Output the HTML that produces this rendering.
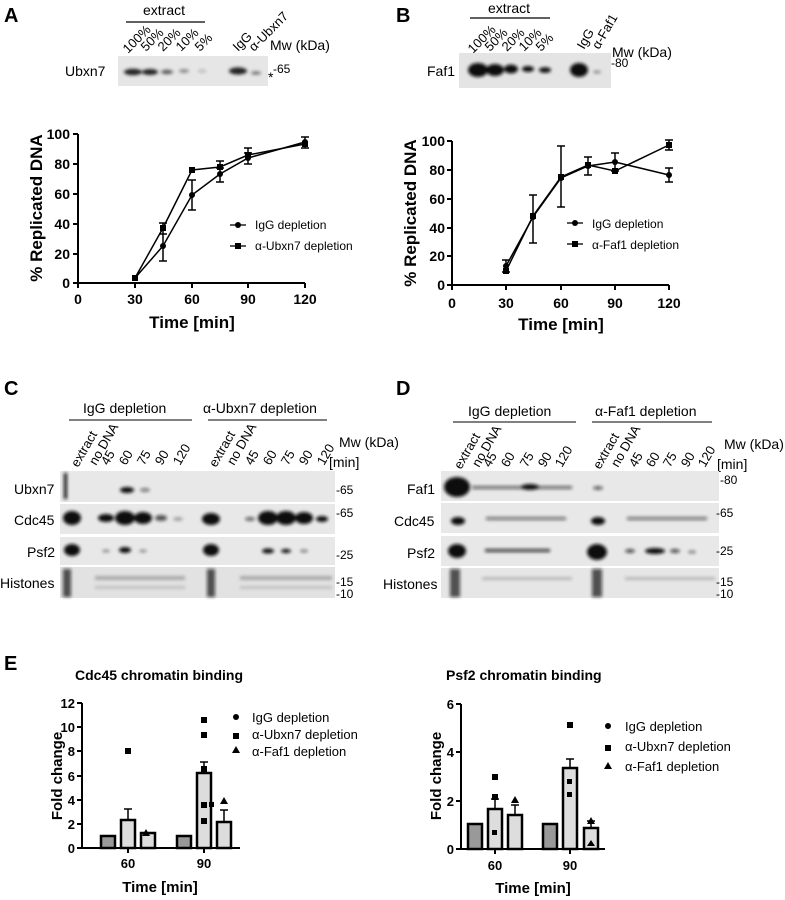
<!DOCTYPE html>
<html><head><meta charset="utf-8"><style>
body{margin:0;background:#fff}
svg{display:block;font-family:"Liberation Sans",sans-serif}
</style></head><body>
<svg width="785" height="900" viewBox="0 0 785 900" xmlns="http://www.w3.org/2000/svg">
<defs>
<filter id="bl" x="-50%" y="-100%" width="200%" height="300%"><feGaussianBlur stdDeviation="1.6"/></filter>
</defs>
<g font-size="20" font-weight="bold">
<text x="4" y="22">A</text><text x="396" y="22">B</text>
<text x="4" y="395">C</text><text x="396" y="395">D</text>
<text x="4" y="670">E</text></g>

<!-- A blot -->
<text x="143" y="15" font-size="14">extract</text>
<line x1="126" y1="22" x2="205" y2="22" stroke="#000" stroke-width="1.2"/>
<g font-size="13">
<text transform="translate(128,54) rotate(-45)">100%</text>
<text transform="translate(146,52) rotate(-45)">50%</text>
<text transform="translate(163,52) rotate(-45)">20%</text>
<text transform="translate(181,52) rotate(-45)">10%</text>
<text transform="translate(200,52) rotate(-45)">5%</text>
<text transform="translate(238,52) rotate(-45)">IgG</text>
<text transform="translate(254,52) rotate(-45)">α-Ubxn7</text>
<text x="270" y="50" font-size="14">Mw (kDa)</text>
</g>
<rect x="118" y="56" width="150" height="30" fill="#e6e6e6"/>
<g filter="url(#bl)" fill="#222">
<ellipse cx="133" cy="72" rx="9" ry="3.2"/><ellipse cx="150" cy="72" rx="8" ry="3"/>
<ellipse cx="167" cy="72" rx="6" ry="2.2" opacity=".7"/><ellipse cx="184" cy="71" rx="5" ry="1.8" opacity=".5"/>
<ellipse cx="202" cy="71" rx="4" ry="1.5" opacity=".25"/><ellipse cx="238" cy="71" rx="9" ry="3.6"/>
<ellipse cx="256" cy="73" rx="5" ry="1.6" opacity=".6"/></g>
<text x="65" y="76" font-size="14">Ubxn7</text>
<text x="273" y="73" font-size="12">-65</text><text x="268" y="82" font-size="14">*</text>

<!-- B blot -->
<text x="488" y="13" font-size="14">extract</text>
<line x1="470" y1="18" x2="550" y2="18" stroke="#000" stroke-width="1.2"/>
<g font-size="13">
<text transform="translate(473,54) rotate(-45)">100%</text>
<text transform="translate(490,52) rotate(-45)">50%</text>
<text transform="translate(507,52) rotate(-45)">20%</text>
<text transform="translate(524,52) rotate(-45)">10%</text>
<text transform="translate(541,52) rotate(-45)">5%</text>
<text transform="translate(584,50) rotate(-60)">IgG</text>
<text transform="translate(599,50) rotate(-60)">α-Faf1</text>
<text x="612" y="57" font-size="14">Mw (kDa)</text>
</g>
<rect x="459" y="53" width="152" height="35" fill="#e4e4e4"/>
<g filter="url(#bl)" fill="#111">
<ellipse cx="478" cy="70" rx="10" ry="7"/><ellipse cx="495" cy="70" rx="9" ry="6"/>
<ellipse cx="511" cy="69" rx="7" ry="4.5"/><ellipse cx="528" cy="69" rx="6" ry="3"/>
<ellipse cx="545" cy="70" rx="6" ry="2.8"/><ellipse cx="579" cy="70" rx="9" ry="7"/>
<ellipse cx="597" cy="72" rx="4" ry="1.5" opacity=".4"/></g>
<text x="427" y="76" font-size="14">Faf1</text>
<text x="611" y="67" font-size="12">-80</text>

<!-- A chart -->
<g font-size="14" font-weight="bold">
<line x1="78" y1="134" x2="78" y2="284" stroke="#000" stroke-width="2"/>
<line x1="77" y1="283" x2="305" y2="283" stroke="#000" stroke-width="2"/>
<g stroke="#000" stroke-width="2">
<line x1="73" y1="134" x2="78" y2="134"/><line x1="73" y1="164" x2="78" y2="164"/><line x1="73" y1="194" x2="78" y2="194"/><line x1="73" y1="224" x2="78" y2="224"/><line x1="73" y1="254" x2="78" y2="254"/><line x1="73" y1="283" x2="78" y2="283"/>
<line x1="78" y1="283" x2="78" y2="288"/><line x1="135" y1="283" x2="135" y2="288"/><line x1="192" y1="283" x2="192" y2="288"/><line x1="248" y1="283" x2="248" y2="288"/><line x1="305" y1="283" x2="305" y2="288"/></g>
<g text-anchor="end"><text x="70" y="139">100</text><text x="70" y="169">80</text><text x="70" y="199">60</text><text x="70" y="229">40</text><text x="70" y="259">20</text><text x="70" y="288">0</text></g>
<g text-anchor="middle"><text x="78" y="304">0</text><text x="135" y="304">30</text><text x="192" y="304">60</text><text x="248" y="304">90</text><text x="305" y="304">120</text></g>
<text x="192" y="328" text-anchor="middle" font-size="17">Time [min]</text>
<text transform="translate(42,208) rotate(-90)" text-anchor="middle" font-size="17">% Replicated DNA</text>
</g>
<g stroke="#000" stroke-width="1.5" fill="none">
<polyline points="135,278 163,246 192,195 220,174 248,158 305,142"/>
<polyline points="135,278 163,228 192,170 220,167 248,155 305,144"/>
<path d="M163,234v27M159,234h8M159,261h8M192,180v30M188,180h8M188,210h8M220,168v14M216,168h8M216,182h8M248,153v11M244,153h8M244,164h8M305,137v11M301,137h8M301,148h8M163,223v12M159,223h8M220,161v10M216,161h8M248,148v10M244,148h8"/>
</g>
<g fill="#000">
<circle cx="135" cy="278" r="3"/><circle cx="163" cy="246" r="3"/><circle cx="192" cy="195" r="3"/><circle cx="220" cy="174" r="3"/><circle cx="248" cy="158" r="3"/><circle cx="305" cy="142" r="3"/>
<rect x="132" y="275" width="6" height="6"/><rect x="160" y="225" width="6" height="6"/><rect x="189" y="167" width="6" height="6"/><rect x="217" y="164" width="6" height="6"/><rect x="245" y="152" width="6" height="6"/><rect x="302" y="141" width="6" height="6"/>
</g>
<line x1="230" y1="225" x2="246" y2="225" stroke="#000" stroke-width="1.3"/><circle cx="238" cy="225" r="3"/>
<line x1="230" y1="246" x2="246" y2="246" stroke="#000" stroke-width="1.3"/><rect x="235" y="243" width="6" height="6"/>
<text x="255" y="229" font-size="12">IgG depletion</text><text x="255" y="250" font-size="12">α-Ubxn7 depletion</text>

<!-- B chart -->
<g font-size="14" font-weight="bold">
<line x1="452" y1="141" x2="452" y2="286" stroke="#000" stroke-width="2"/>
<line x1="451" y1="285" x2="669" y2="285" stroke="#000" stroke-width="2"/>
<g stroke="#000" stroke-width="2">
<line x1="447" y1="141" x2="452" y2="141"/><line x1="447" y1="170" x2="452" y2="170"/><line x1="447" y1="199" x2="452" y2="199"/><line x1="447" y1="228" x2="452" y2="228"/><line x1="447" y1="256" x2="452" y2="256"/><line x1="447" y1="285" x2="452" y2="285"/>
<line x1="452" y1="285" x2="452" y2="290"/><line x1="506" y1="285" x2="506" y2="290"/><line x1="561" y1="285" x2="561" y2="290"/><line x1="615" y1="285" x2="615" y2="290"/><line x1="669" y1="285" x2="669" y2="290"/></g>
<g text-anchor="end"><text x="445" y="146">100</text><text x="445" y="175">80</text><text x="445" y="204">60</text><text x="445" y="233">40</text><text x="445" y="261">20</text><text x="445" y="290">0</text></g>
<g text-anchor="middle"><text x="452" y="308">0</text><text x="506" y="308">30</text><text x="561" y="308">60</text><text x="615" y="308">90</text><text x="669" y="308">120</text></g>
<text x="561" y="330" text-anchor="middle" font-size="17">Time [min]</text>
<text transform="translate(416,213) rotate(-90)" text-anchor="middle" font-size="17">% Replicated DNA</text>
</g>
<g stroke="#000" stroke-width="1.5" fill="none">
<polyline points="506,266 533,217 561,178 588,166 615,162 669,175"/>
<polyline points="506,271 533,216 561,177 588,165 615,171 669,145"/>
<path d="M506,260v12M502,260h8M502,272h8M533,195v48M529,195h8M529,243h8M561,146v61M557,146h8M557,207h8M588,157v18M584,157h8M584,175h8M615,153v18M611,153h8M611,171h8M669,168v14M665,168h8M665,182h8M669,140v10M665,140h8M665,150h8"/>
</g>
<g fill="#000">
<circle cx="506" cy="266" r="3"/><circle cx="533" cy="217" r="3"/><circle cx="561" cy="178" r="3"/><circle cx="588" cy="166" r="3"/><circle cx="615" cy="162" r="3"/><circle cx="669" cy="175" r="3"/>
<rect x="503" y="268" width="6" height="6"/><rect x="530" y="213" width="6" height="6"/><rect x="558" y="174" width="6" height="6"/><rect x="585" y="162" width="6" height="6"/><rect x="612" y="168" width="6" height="6"/><rect x="666" y="142" width="6" height="6"/>
</g>
<line x1="567" y1="223" x2="583" y2="223" stroke="#000" stroke-width="1.3"/><circle cx="575" cy="223" r="3"/>
<line x1="567" y1="244" x2="583" y2="244" stroke="#000" stroke-width="1.3"/><rect x="572" y="241" width="6" height="6"/>
<text x="592" y="228" font-size="12">IgG depletion</text><text x="592" y="249" font-size="12">α-Faf1 depletion</text>

<!-- C blots -->
<g font-size="14">
<text x="83" y="413">IgG depletion</text><text x="203" y="413">α-Ubxn7 depletion</text>
<line x1="69" y1="420" x2="192" y2="420" stroke="#000"/><line x1="208" y1="420" x2="327" y2="420" stroke="#000"/>
<text x="339" y="447">Mw (kDa)</text><text x="329" y="467">[min]</text>
</g>
<g font-size="13">
<text transform="translate(78,468) rotate(-60)">extract</text><text transform="translate(96,466) rotate(-60)">no DNA</text>
<text transform="translate(108,466) rotate(-60)">45</text><text transform="translate(126,466) rotate(-60)">60</text>
<text transform="translate(144,466) rotate(-60)">75</text><text transform="translate(162,466) rotate(-60)">90</text><text transform="translate(180,466) rotate(-60)">120</text>
<text transform="translate(216,468) rotate(-60)">extract</text><text transform="translate(234,466) rotate(-60)">no DNA</text>
<text transform="translate(252,466) rotate(-60)">45</text><text transform="translate(270,466) rotate(-60)">60</text>
<text transform="translate(288,466) rotate(-60)">75</text><text transform="translate(306,466) rotate(-60)">90</text><text transform="translate(324,466) rotate(-60)">120</text>
</g>
<g fill="#e8e8e8"><rect x="60" y="471" width="275" height="31"/><rect x="60" y="504" width="275" height="30"/><rect x="60" y="537" width="275" height="28"/><rect x="60" y="567" width="275" height="31" fill="#e2e2e2"/></g>
<g font-size="14"><text x="14" y="494">Ubxn7</text><text x="14" y="525">Cdc45</text><text x="27" y="557">Psf2</text><text x="0" y="588">Histones</text></g>
<g font-size="12"><text x="336" y="494">-65</text><text x="336" y="517">-65</text><text x="336" y="559">-25</text><text x="336" y="586">-15</text><text x="336" y="598">-10</text></g>
<g filter="url(#bl)" fill="#111">
<rect x="64" y="473" width="3" height="26"/><ellipse cx="127" cy="490" rx="7" ry="3"/><ellipse cx="145" cy="490" rx="5" ry="2" opacity=".5"/>
<ellipse cx="72" cy="518" rx="9" ry="7"/><ellipse cx="106" cy="518" rx="8" ry="4"/><ellipse cx="125" cy="518" rx="10" ry="7"/><ellipse cx="143" cy="518" rx="9" ry="6"/><ellipse cx="161" cy="518" rx="6" ry="3" opacity=".7"/><ellipse cx="178" cy="519" rx="5" ry="2" opacity=".3"/>
<ellipse cx="211" cy="519" rx="9" ry="6"/><ellipse cx="250" cy="519" rx="5" ry="2" opacity=".6"/><ellipse cx="268" cy="518" rx="10" ry="7"/><ellipse cx="286" cy="518" rx="10" ry="7"/><ellipse cx="304" cy="518" rx="9" ry="6"/><ellipse cx="322" cy="519" rx="6" ry="3"/>
<ellipse cx="72" cy="550" rx="8" ry="6"/><ellipse cx="106" cy="551" rx="4" ry="1.5" opacity=".4"/><ellipse cx="125" cy="550" rx="6" ry="3"/><ellipse cx="143" cy="551" rx="4" ry="1.5" opacity=".4"/>
<ellipse cx="211" cy="550" rx="8" ry="6"/><ellipse cx="268" cy="551" rx="6" ry="2.5"/><ellipse cx="286" cy="551" rx="5" ry="2"/><ellipse cx="304" cy="551" rx="4" ry="1.5" opacity=".5"/>
<rect x="63" y="569" width="8" height="28" opacity=".7"/><rect x="207" y="569" width="8" height="28" opacity=".7"/>
<rect x="95" y="576" width="90" height="4" opacity=".25"/><rect x="240" y="576" width="92" height="4" opacity=".25"/>
<rect x="95" y="586" width="90" height="3" opacity=".15"/><rect x="240" y="586" width="92" height="3" opacity=".15"/>
</g>

<!-- D blots -->
<g font-size="14">
<text x="468" y="416">IgG depletion</text><text x="595" y="416">α-Faf1 depletion</text>
<line x1="453" y1="422" x2="576" y2="422" stroke="#000"/><line x1="592" y1="422" x2="712" y2="422" stroke="#000"/>
<text x="724" y="449">Mw (kDa)</text><text x="717" y="469">[min]</text>
</g>
<g font-size="13">
<text transform="translate(461,470) rotate(-60)">extract</text><text transform="translate(479,468) rotate(-60)">no DNA</text>
<text transform="translate(490,468) rotate(-60)">45</text><text transform="translate(508,468) rotate(-60)">60</text>
<text transform="translate(527,468) rotate(-60)">75</text><text transform="translate(545,468) rotate(-60)">90</text><text transform="translate(562,468) rotate(-60)">120</text>
<text transform="translate(600,470) rotate(-60)">extract</text><text transform="translate(618,468) rotate(-60)">no DNA</text>
<text transform="translate(636,468) rotate(-60)">45</text><text transform="translate(653,468) rotate(-60)">60</text>
<text transform="translate(670,468) rotate(-60)">75</text><text transform="translate(688,468) rotate(-60)">90</text><text transform="translate(705,468) rotate(-60)">120</text>
</g>
<g fill="#e8e8e8"><rect x="441" y="471" width="278" height="30"/><rect x="441" y="503" width="278" height="30"/><rect x="441" y="536" width="278" height="30"/><rect x="441" y="568" width="278" height="30" fill="#e6e6e6"/></g>
<g font-size="14"><text x="407" y="494">Faf1</text><text x="394" y="526">Cdc45</text><text x="407" y="558">Psf2</text><text x="383" y="589">Histones</text></g>
<g font-size="12"><text x="720" y="484">-80</text><text x="716" y="517">-65</text><text x="716" y="555">-25</text><text x="716" y="586">-15</text><text x="716" y="598">-10</text></g>
<g filter="url(#bl)" fill="#111">
<ellipse cx="457" cy="487" rx="13" ry="10"/><rect x="472" y="486" width="100" height="3" opacity=".6"/><ellipse cx="530" cy="487" rx="9" ry="3"/>
<ellipse cx="598" cy="488" rx="5" ry="2" opacity=".6"/>
<ellipse cx="458" cy="521" rx="7" ry="4"/><rect x="486" y="517" width="80" height="3" opacity=".55"/><rect x="627" y="517" width="80" height="3" opacity=".55"/><ellipse cx="598" cy="521" rx="7" ry="4"/>
<ellipse cx="457" cy="551" rx="9" ry="7"/><rect x="485" y="549" width="65" height="3" opacity=".8"/><ellipse cx="597" cy="552" rx="10" ry="8"/><ellipse cx="655" cy="551" rx="10" ry="3"/><ellipse cx="675" cy="551" rx="5" ry="2" opacity=".7"/><ellipse cx="692" cy="552" rx="4" ry="1.5" opacity=".5"/><ellipse cx="630" cy="551" rx="5" ry="2" opacity=".7"/>
<rect x="450" y="569" width="10" height="28" opacity=".7"/><rect x="592" y="569" width="10" height="28" opacity=".7"/>
<rect x="482" y="577" width="90" height="3" opacity=".2"/><rect x="625" y="577" width="90" height="3" opacity=".2"/>
</g>

<!-- E left -->
<text x="75" y="680" font-size="14" font-weight="bold">Cdc45 chromatin binding</text>
<g font-size="13" font-weight="bold">
<line x1="82" y1="703" x2="82" y2="849" stroke="#000" stroke-width="2"/>
<line x1="81" y1="848" x2="240" y2="848" stroke="#000" stroke-width="2"/>
<g stroke="#000" stroke-width="2"><line x1="77" y1="703" x2="82" y2="703"/><line x1="77" y1="727" x2="82" y2="727"/><line x1="77" y1="751" x2="82" y2="751"/><line x1="77" y1="776" x2="82" y2="776"/><line x1="77" y1="800" x2="82" y2="800"/><line x1="77" y1="824" x2="82" y2="824"/><line x1="77" y1="848" x2="82" y2="848"/><line x1="128" y1="848" x2="128" y2="853"/><line x1="204" y1="848" x2="204" y2="853"/></g>
<g text-anchor="end"><text x="75" y="708">12</text><text x="75" y="732">10</text><text x="75" y="756">8</text><text x="75" y="781">6</text><text x="75" y="805">4</text><text x="75" y="829">2</text><text x="75" y="853">0</text></g>
<text x="128" y="868" text-anchor="middle">60</text><text x="204" y="868" text-anchor="middle">90</text>
<text x="160" y="892" text-anchor="middle" font-size="15">Time [min]</text>
<text transform="translate(62,776) rotate(-90)" text-anchor="middle" font-size="15">Fold change</text>
</g>
<g stroke="#000" stroke-width="2.5">
<rect x="101" y="836" width="14" height="12" fill="#999"/><rect x="121" y="820" width="14" height="28" fill="#ddd"/><rect x="141" y="833" width="14" height="15" fill="#ddd"/>
<rect x="177" y="836" width="14" height="12" fill="#999"/><rect x="197" y="773" width="14" height="75" fill="#ddd"/><rect x="217" y="822" width="14" height="26" fill="#ddd"/>
<path d="M128,820v-11M124,809h8M204,773v-11M200,762h8M224,822v-12M220,810h8" fill="none" stroke-width="1.5"/>
</g>
<g fill="#000">
<rect x="125" y="748" width="6" height="6"/><rect x="201" y="717" width="6" height="6"/><rect x="201" y="732" width="6" height="6"/><rect x="201" y="766" width="6" height="6"/><rect x="201" y="802" width="6" height="6"/><rect x="201" y="818" width="6" height="6"/><rect x="209" y="802" width="5" height="5"/>
<polygon points="224,797 228,804 220,804"/><polygon points="146,829 150,836 142,836"/>
<circle cx="236" cy="717" r="3"/><rect x="233" y="733" width="6" height="6"/><polygon points="236,746 240,753 232,753"/>
</g>
<g font-size="13"><text x="252" y="722">IgG depletion</text><text x="252" y="739">α-Ubxn7 depletion</text><text x="252" y="756">α-Faf1 depletion</text></g>

<!-- E right -->
<text x="446" y="680" font-size="14" font-weight="bold">Psf2 chromatin binding</text>
<g font-size="13" font-weight="bold">
<line x1="461" y1="704" x2="461" y2="850" stroke="#000" stroke-width="2"/>
<line x1="460" y1="849" x2="605" y2="849" stroke="#000" stroke-width="2"/>
<g stroke="#000" stroke-width="2"><line x1="456" y1="704" x2="461" y2="704"/><line x1="456" y1="752" x2="461" y2="752"/><line x1="456" y1="801" x2="461" y2="801"/><line x1="456" y1="849" x2="461" y2="849"/><line x1="495" y1="849" x2="495" y2="854"/><line x1="570" y1="849" x2="570" y2="854"/></g>
<g text-anchor="end"><text x="454" y="709">6</text><text x="454" y="757">4</text><text x="454" y="806">2</text><text x="454" y="854">0</text></g>
<text x="495" y="870" text-anchor="middle">60</text><text x="570" y="870" text-anchor="middle">90</text>
<text x="533" y="893" text-anchor="middle" font-size="15">Time [min]</text>
<text transform="translate(441,776) rotate(-90)" text-anchor="middle" font-size="15">Fold change</text>
</g>
<g stroke="#000" stroke-width="2.5">
<rect x="468" y="824" width="14" height="25" fill="#999"/><rect x="488" y="809" width="14" height="40" fill="#ddd"/><rect x="508" y="815" width="14" height="34" fill="#ddd"/>
<rect x="543" y="824" width="14" height="25" fill="#999"/><rect x="563" y="768" width="14" height="81" fill="#ddd"/><rect x="584" y="828" width="14" height="21" fill="#ddd"/>
<path d="M495,809v-10M491,799h8M515,815v-10M511,805h8M570,768v-9M566,759h8M591,828v-7M587,821h8" fill="none" stroke-width="1.5"/>
</g>
<g fill="#000">
<rect x="492" y="774" width="6" height="6"/><rect x="492" y="794" width="6" height="6"/><rect x="492" y="830" width="5" height="5"/><rect x="567" y="722" width="6" height="6"/><rect x="567" y="779" width="5" height="5"/><rect x="567" y="792" width="5" height="5"/>
<polygon points="515,796 519,803 511,803"/><polygon points="591,817 595,824 587,824"/><polygon points="591,840 595,846 587,846"/>
<circle cx="608" cy="726" r="3"/><rect x="605" y="745" width="6" height="6"/><polygon points="608,762 612,769 604,769"/>
</g>
<g font-size="13"><text x="625" y="731">IgG depletion</text><text x="625" y="751">α-Ubxn7 depletion</text><text x="625" y="771">α-Faf1 depletion</text></g>
</svg>
</body></html>
